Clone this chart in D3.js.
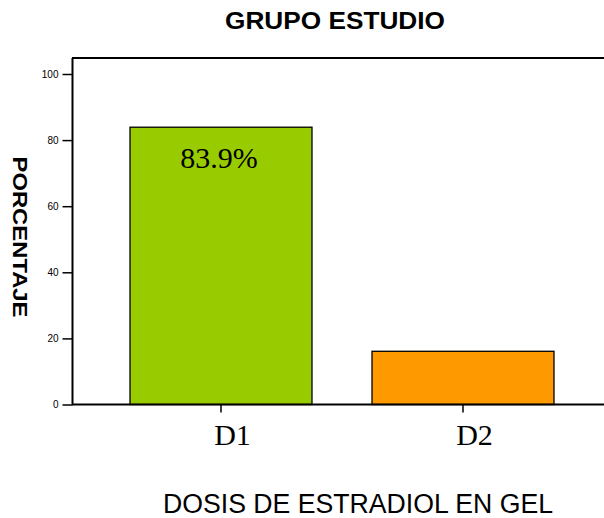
<!DOCTYPE html>
<html><head><meta charset="utf-8">
<script src="https://cdn.jsdelivr.net/npm/d3@7"></script>
<style>body{margin:0;background:#fff}svg{display:block}</style>
</head><body>
<script>
const categories = ["D1", "D2"];
const values = [83.9, 16.1];
const colors = ["#99CC00", "#FF9900"];
const yTicks = [0, 20, 40, 60, 80, 100];
const barLabels = ["83.9%", null];

const W = 604, H = 518;
const svg = d3.select("body").append("svg").attr("width", W).attr("height", H);

const x = d3.scaleBand().domain(categories).range([100, 584]).paddingInner(0.248).paddingOuter(0.124);
const y = d3.scaleLinear().domain([0, 100]).range([404.5, 74]);

// frame top line
svg.append("line").attr("x1", 72).attr("x2", W).attr("y1", 58).attr("y2", 58)
  .attr("stroke", "#000").attr("stroke-width", 2);

// bars
svg.selectAll("rect.bar").data(categories).enter().append("rect")
  .attr("x", d => x(d)).attr("width", x.bandwidth())
  .attr("y", (d, i) => y(values[i])).attr("height", (d, i) => y(0) - y(values[i]))
  .attr("fill", (d, i) => colors[i]).attr("stroke", "#000").attr("stroke-width", 1.3);

// y axis
const ya = svg.append("g").attr("transform", "translate(72.5,0)")
  .call(d3.axisLeft(y).tickValues(yTicks).tickSize(10).tickPadding(4).tickSizeOuter(0));
ya.select(".domain").attr("d", `M0,58V${y(0)}`).attr("stroke-width", 2);
ya.selectAll(".tick line").attr("stroke-width", 1.5);
ya.selectAll(".tick text").attr("font-family", "Liberation Sans, Arial, sans-serif").attr("font-size", 10).attr("fill", "#000");

// x axis
const xa = svg.append("g").attr("transform", `translate(0,${y(0)})`)
  .call(d3.axisBottom(x).tickSize(8).tickSizeOuter(0).tickPadding(12));
xa.select(".domain").attr("d", `M72,0H${W}`).attr("stroke-width", 2);
xa.selectAll(".tick line").attr("stroke-width", 1.5);
xa.selectAll(".tick text").attr("font-family", "Liberation Serif, Times New Roman, serif")
  .attr("font-size", 30).attr("fill", "#000").attr("dx", 11.5).attr("dy", 20.5);

// bar value labels
svg.selectAll("text.val").data(categories).enter().filter((d, i) => barLabels[i])
  .append("text").attr("class", "val")
  .attr("x", d => x(d) + x.bandwidth() / 2 - 2).attr("y", (d) => y(values[categories.indexOf(d)]) + 41)
  .attr("text-anchor", "middle").attr("font-family", "Liberation Serif, Times New Roman, serif")
  .attr("font-size", 30).text((d) => barLabels[categories.indexOf(d)]);

// title
svg.append("text").attr("x", 335).attr("y", 29).attr("text-anchor", "middle")
  .attr("font-family", "Liberation Sans, Arial, sans-serif").attr("font-weight", "bold")
  .attr("font-size", 23).attr("textLength", 220).attr("lengthAdjust", "spacingAndGlyphs")
  .text("GRUPO ESTUDIO");

// y title
svg.append("text").attr("transform", "translate(13,237) rotate(90)").attr("text-anchor", "middle")
  .attr("font-family", "Liberation Sans, Arial, sans-serif").attr("font-weight", "bold")
  .attr("font-size", 19.5).attr("textLength", 161).attr("lengthAdjust", "spacingAndGlyphs")
  .text("PORCENTAJE");

// x title
svg.append("text").attr("x", 358).attr("y", 513).attr("text-anchor", "middle")
  .attr("font-family", "Liberation Sans, Arial, sans-serif")
  .attr("font-size", 27).attr("textLength", 390).attr("lengthAdjust", "spacingAndGlyphs")
  .text("DOSIS DE ESTRADIOL EN GEL");
</script>
</body></html>
